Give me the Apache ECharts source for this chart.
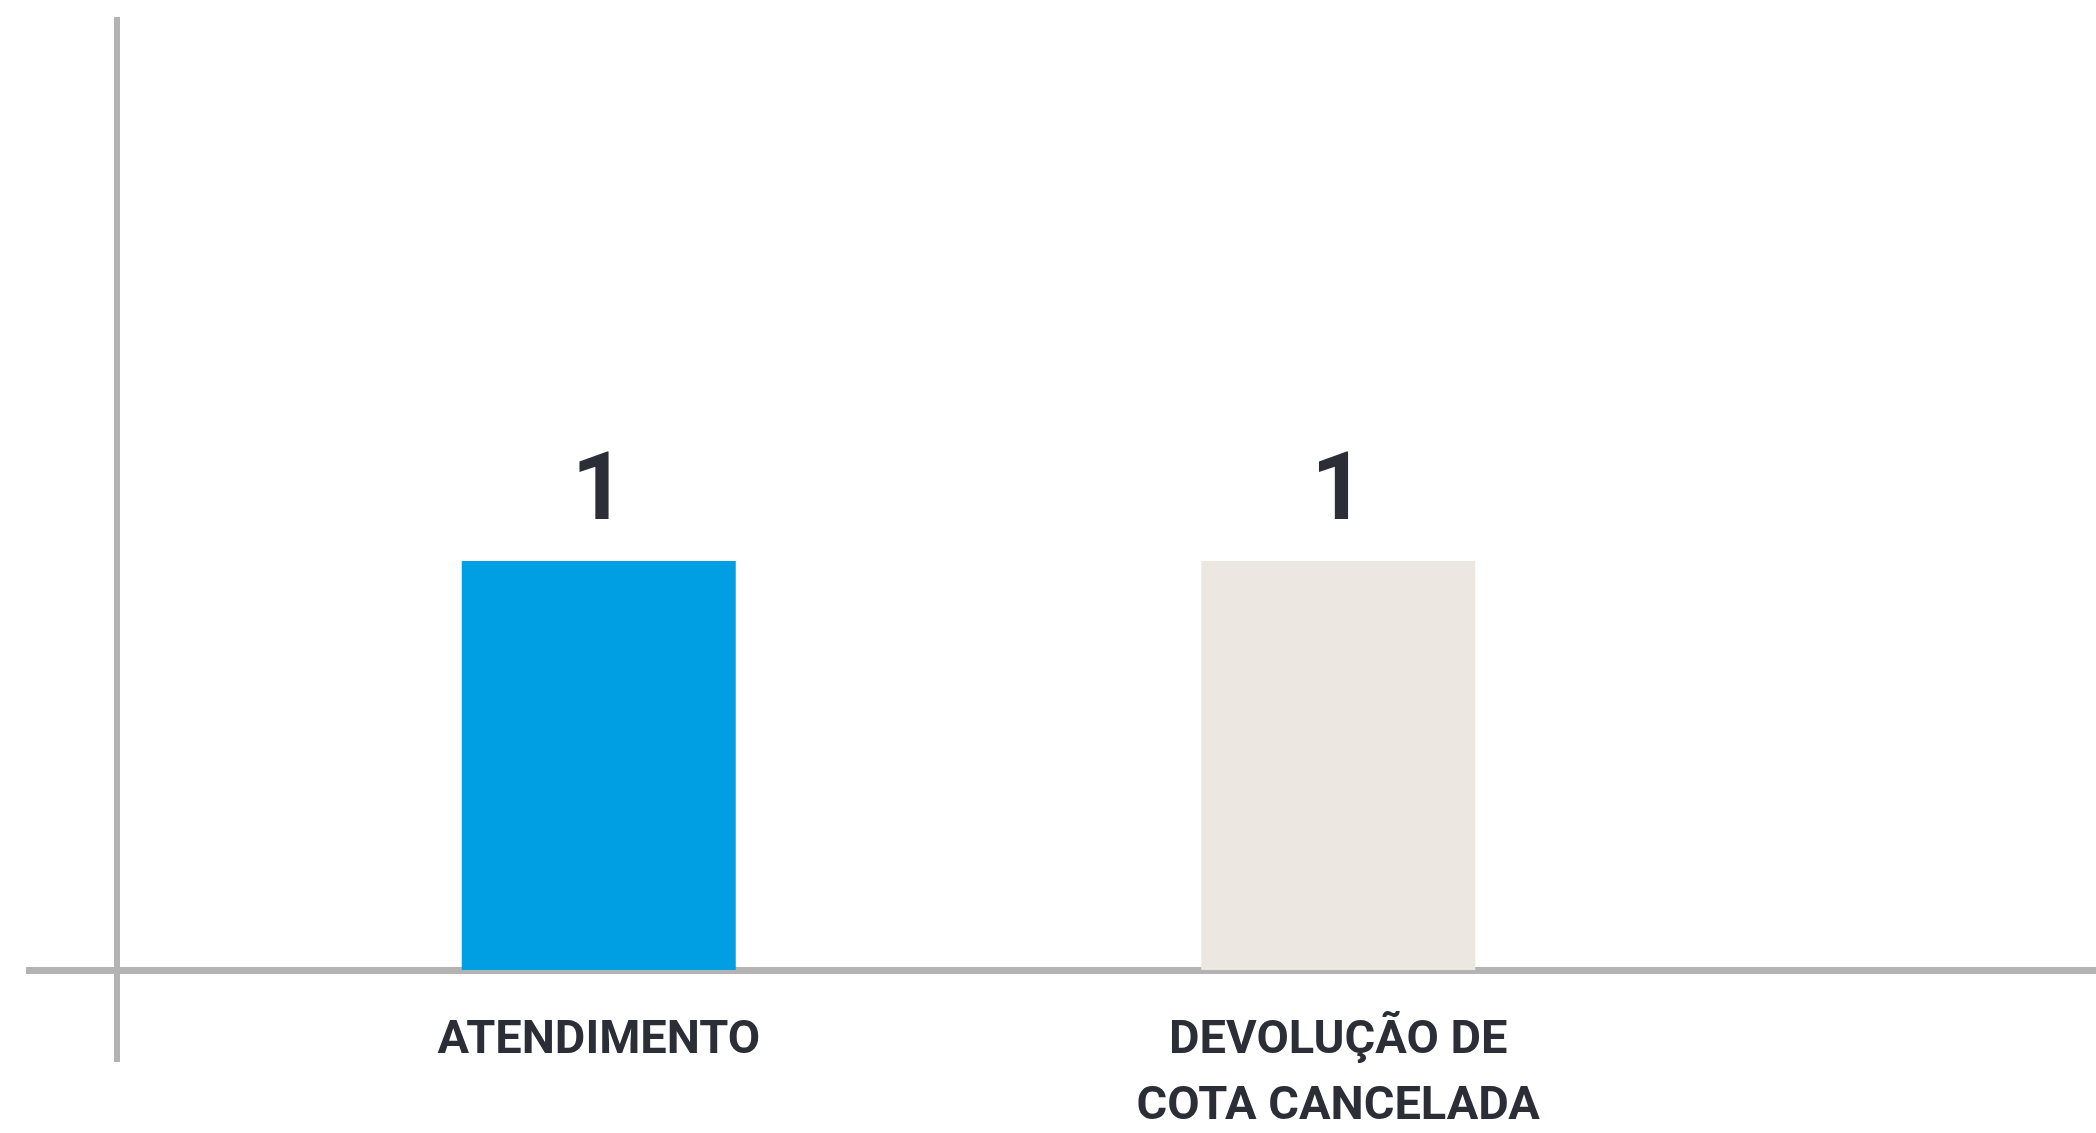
<!DOCTYPE html>
<html>
<head>
<meta charset="utf-8">
<title>chart</title>
<script src="https://cdn.jsdelivr.net/npm/echarts@6/dist/echarts.min.js"></script>
<style>
  html, body { margin: 0; padding: 0; background: #ffffff; }
  #main { width: 2096px; height: 1133px; }
</style>
</head>
<body>
<div id="main"></div>
<script>
// dados
var categorias = ['ATENDIMENTO', 'DEVOLUÇÃO DE\nCOTA CANCELADA'];
var valores = [1, 1];
var cores = ['#009fe3', '#ece8e1'];

var chart = echarts.init(document.getElementById('main'));

var eixoCor = '#b3b3b3';
var textoCor = '#2b2e36';
var yMin = -0.225, yMax = 2.33;

var option = {
  backgroundColor: '#ffffff',
  animation: false,
  grid: [
    // grade só para as linhas dos eixos (o eixo y desce abaixo do zero)
    { left: 26, right: 0, top: 17, bottom: 71, outerBoundsMode: 'none', containLabel: false },
    // grade das barras, com a base no zero
    { left: 229, right: 388, top: 17, bottom: 163, outerBoundsMode: 'none', containLabel: false }
  ],
  xAxis: [
    {
      gridIndex: 0,
      type: 'value',
      min: 0,
      max: 1,
      axisLine: { show: true, onZero: true, lineStyle: { color: eixoCor, width: 7, cap: 'butt' } },
      axisTick: { show: false },
      axisLabel: { show: false },
      splitLine: { show: false }
    },
    {
      gridIndex: 1,
      type: 'category',
      data: categorias,
      axisLine: { show: false },
      axisTick: { show: false },
      axisLabel: {
        margin: 38,
        color: textoCor,
        fontFamily: 'Roboto',
        fontWeight: 'bold',
        fontSize: 47,
        lineHeight: 66
      }
    }
  ],
  yAxis: [
    {
      gridIndex: 0,
      type: 'value',
      min: yMin,
      max: yMax,
      offset: -91,
      axisLine: { show: true, onZero: false, lineStyle: { color: eixoCor, width: 6, cap: 'butt' } },
      axisTick: { show: false },
      axisLabel: { show: false },
      splitLine: { show: false }
    },
    {
      gridIndex: 1,
      type: 'value',
      min: 0,
      max: yMax,
      axisLine: { show: false },
      axisTick: { show: false },
      axisLabel: { show: false },
      splitLine: { show: false }
    }
  ],
  series: [
    {
      type: 'bar',
      xAxisIndex: 1,
      yAxisIndex: 1,
      barWidth: 274,
      data: valores.map(function (v, i) {
        return { value: v, itemStyle: { color: cores[i] } };
      }),
      label: {
        show: true,
        position: 'top',
        distance: 18,
        color: textoCor,
        fontFamily: 'Roboto',
        fontWeight: 'bold',
        fontSize: 94
      }
    }
  ]
};

chart.setOption(option);
</script>
</body>
</html>
